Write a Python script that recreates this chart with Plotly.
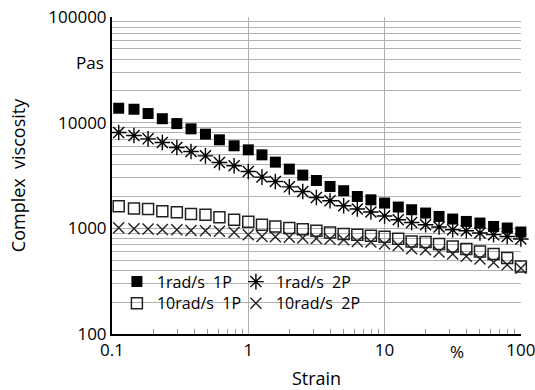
import plotly.graph_objects as go

strain = [0.112, 0.145, 0.184, 0.234, 0.299, 0.38, 0.485, 0.614, 0.787, 1.0,
          1.26, 1.58, 2.0, 2.51, 3.16, 3.98, 5.01, 6.31, 7.94, 10.0,
          12.6, 15.8, 20.0, 25.1, 31.6, 39.8, 50.1, 63.1, 79.4, 100.0]
v_1rad_1p = [13700, 13400, 12200, 10900, 9800, 8740, 7790, 6880, 6040, 5530,
             4960, 4230, 3635, 3190, 2835, 2490, 2270, 2000, 1862, 1734,
             1590, 1500, 1395, 1296, 1224, 1162, 1122, 1042, 1007, 923]
v_1rad_2p = [8060, 7550, 7030, 6485, 5815, 5330, 4855, 4195, 3905, 3450,
             3055, 2775, 2470, 2233, 1959, 1823, 1636, 1522, 1426, 1310,
             1205, 1137, 1081, 1028, 970, 949, 903, 871, 838, 792]
v_10rad_1p = [1618, 1538, 1522, 1451, 1419, 1368, 1344, 1273, 1205, 1154,
              1081, 1042, 1007, 980, 949, 915, 883, 871, 851, 833,
              797, 752, 742, 711, 674, 637, 605, 571, 524, 436]
v_10rad_2p = [1013, 991, 985, 976, 970, 955, 949, 939, 919, 870,
              838, 833, 824, 810, 803, 792, 780, 752, 742, 711,
              689, 641, 628, 597, 572, 543, 513, 476, 453, 420]

x_ticks = [0.1, 1, 10, 100]
x_ticktext = ["0.1", "1", "10", "100"]
y_ticks = [100, 1000, 10000, 100000]
y_ticktext = ["100", "1000", "10000", "100000"]
x_minor = [m * d for d in [0.1, 1, 10] for m in range(2, 10)]
y_minor = [m * d for d in [100, 1000, 10000] for m in range(2, 10)]

series = [
    ("1rad/s\u00a0 1P", v_1rad_1p, dict(symbol="square", size=11, color="black",
                                        line=dict(width=0)), "legend"),
    ("1rad/s\u00a0 2P", v_1rad_2p, dict(symbol="asterisk-open", size=13, color="black",
                                        line=dict(width=1.4, color="black")), "legend2"),
    ("10rad/s\u00a0 1P", v_10rad_1p, dict(symbol="square-open", size=11, color="#222",
                                          line=dict(width=1.5, color="#222")), "legend3"),
    ("10rad/s\u00a0 2P", v_10rad_2p, dict(symbol="x-thin-open", size=11, color="#222",
                                          line=dict(width=1.4, color="#222")), "legend4"),
]

fig = go.Figure()
for name, vals, mk, lg in series:
    fig.add_trace(go.Scatter(x=strain, y=vals, mode="markers", name=name,
                             marker=mk, legend=lg, cliponaxis=False))

grid_col = "#b0b0b0"
leg_common = dict(orientation="h", xanchor="left", yanchor="middle",
                  bgcolor="rgba(255,255,255,0)",
                  font=dict(size=16, color="black"), itemwidth=30)

fig.update_layout(
    width=535, height=390,
    margin=dict(l=112, r=14, t=17, b=56, autoexpand=False),
    paper_bgcolor="white", plot_bgcolor="white",
    font=dict(family="Open Sans", size=17, color="black"),
    showlegend=True,
    legend=dict(x=0.012, y=0.165, **leg_common),
    legend2=dict(x=0.303, y=0.165, **leg_common),
    legend3=dict(x=0.012, y=0.097, **leg_common),
    legend4=dict(x=0.303, y=0.097, **leg_common),
    xaxis=dict(type="log", range=[-1, 2.001], tickmode="array", tickvals=x_ticks,
               ticktext=x_ticktext, showgrid=True, gridcolor=grid_col, gridwidth=1,
               showline=True, linecolor="black", linewidth=1.5, ticks="",
               zeroline=False, automargin=False, ticklabeloverflow="allow",
               minor=dict(tickmode="array", tickvals=x_minor, ticks="inside",
                          ticklen=5, tickcolor="#999", tickwidth=1, showgrid=False),
               title=dict(text="Strain", standoff=14, font=dict(size=18))),
    yaxis=dict(type="log", range=[2, 5], tickmode="array", tickvals=y_ticks,
               ticktext=y_ticktext, showgrid=True, gridcolor=grid_col, gridwidth=1,
               showline=True, linecolor="black", linewidth=2, ticks="",
               zeroline=False, automargin=False, ticklabeloverflow="allow",
               minor=dict(tickmode="array", tickvals=y_minor, ticks="",
                          showgrid=True, gridcolor=grid_col, gridwidth=1),
               title=dict(text="Complex\u00a0 viscosity", standoff=18, font=dict(size=18))),
    shapes=[dict(type="rect", xref="paper", yref="paper", x0=0.021, x1=0.601,
                 y0=0.066, y1=0.233, fillcolor="white", line=dict(width=0),
                 layer="between")],
    annotations=[
        dict(text="Pas", xref="paper", yref="paper", x=-0.015, y=0.858,
             xanchor="right", yanchor="middle", showarrow=False, font=dict(size=17)),
        dict(text="%", xref="x", yref="paper", x=1.529, y=-0.054,
             xanchor="center", yanchor="middle", showarrow=False, font=dict(size=17)),
    ],
)

fig.write_html("out.html")
